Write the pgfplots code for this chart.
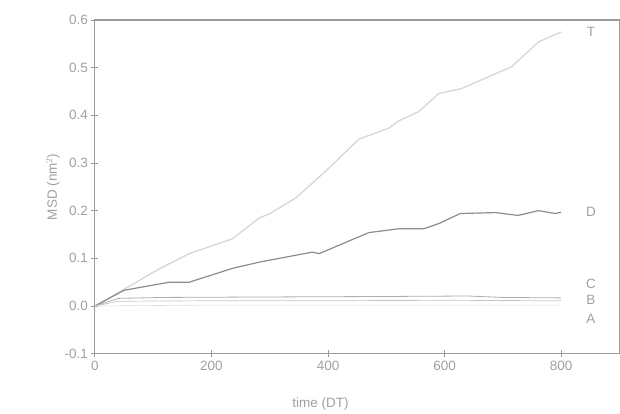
\documentclass[border=0pt]{standalone}
\usepackage{fontspec}
\setmainfont{Liberation Sans}
\usepackage{pgfplots}
\pgfplotsset{compat=1.18}
\usetikzlibrary{calc}

\definecolor{axgray}{HTML}{9A9A9A}
\definecolor{txtgray}{HTML}{A0A0A0}
\definecolor{tgray}{HTML}{D6D6D6}
\definecolor{dgray}{HTML}{8C8C8C}
\definecolor{fgray}{HTML}{C4C4C4}

\begin{document}
\begin{tikzpicture}
\begin{axis}[
    name=ax,
    scale only axis,
    width=525pt,
    height=334pt,
    xmin=0, xmax=900,
    ymin=-0.1, ymax=0.6,
    xtick={0,200,400,600,800},
    ytick={-0.1,0,0.1,0.2,0.3,0.4,0.5,0.6},
    yticklabel style={/pgf/number format/.cd,fixed,fixed zerofill,precision=1},
    /pgf/number format/assume math mode=true,
    tick align=center,
    major tick length=7pt,
    tick style={axgray, line width=0.9pt},
    xtick pos=bottom, ytick pos=left,
    axis line style={axgray, line width=1.1pt},
    ticklabel style={font=\fontsize{13.5}{15}\selectfont, text=txtgray},
    label style={font=\fontsize{13.5}{15}\selectfont, text=txtgray},
    xlabel={time (DT)},
    ylabel={MSD (nm$^2$)},
    xlabel style={at={(axis description cs:0.43,0)}, anchor=center, yshift=-50pt},
    ylabel style={yshift=-2pt},
    clip=false
]
% T
\addplot[tgray, line width=1.3pt] coordinates {
(0,0) (50,0.035) (106,0.075) (162,0.11) (236,0.141) (282,0.185) (299,0.193)
(345,0.227) (396,0.283) (453,0.35) (504,0.373) (521,0.388) (556,0.408)
(590,0.446) (629,0.456) (715,0.502) (761,0.554) (800,0.575)};
% D
\addplot[dgray, line width=1.2pt] coordinates {
(0,0) (50,0.033) (128,0.05) (162,0.05) (236,0.079) (282,0.092) (299,0.096)
(373,0.113) (385,0.11) (470,0.154) (521,0.162) (564,0.162) (590,0.173)
(627,0.194) (687,0.196) (726,0.19) (761,0.2) (790,0.194) (800,0.197)};
% C
\addplot[dgray!70, line width=0.8pt] coordinates {
(0,0) (40,0.016) (120,0.018) (300,0.019) (500,0.02) (640,0.021) (700,0.018) (800,0.017)};
% B
\addplot[fgray, line width=0.7pt] coordinates {
(0,0) (40,0.01) (200,0.011) (400,0.011) (600,0.012) (800,0.011)};
% A
\addplot[fgray!60, line width=0.6pt] coordinates {
(0,0) (200,0.002) (400,0.002) (600,0.002) (800,0.002)};
\node[text=txtgray, font=\fontsize{13.5}{15}\selectfont] at (axis cs:851,0.575) {T};
\node[text=txtgray, font=\fontsize{13.5}{15}\selectfont] at (axis cs:851,0.198) {D};
\node[text=txtgray, font=\fontsize{13.5}{15}\selectfont] at (axis cs:851,0.047) {C};
\node[text=txtgray, font=\fontsize{13.5}{15}\selectfont] at (axis cs:851,0.013) {B};
\node[text=txtgray, font=\fontsize{13.5}{15}\selectfont] at (axis cs:851,-0.027) {A};
\end{axis}
\path[use as bounding box] ($(ax.south west)+(-95pt,-60pt)$) rectangle ($(ax.north east)+(0pt,20pt)$);
\end{tikzpicture}
\end{document}
